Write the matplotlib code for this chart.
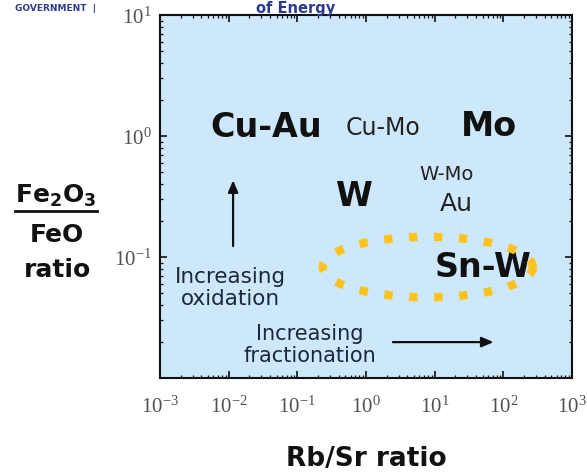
import numpy as np
import matplotlib
matplotlib.use("Agg")
import matplotlib.pyplot as plt
from matplotlib.lines import Line2D

plt.rcParams["mathtext.fontset"] = "custom"
plt.rcParams["mathtext.rm"] = "Liberation Serif"
plt.rcParams["mathtext.bf"] = "DejaVu Sans:bold"

# Axis ranges (Rb/Sr ratio vs Fe2O3/FeO ratio)
x_limits = [1e-3, 1e3]
y_limits = [1e-2, 1e1]
x_ticks = [1e-3, 1e-2, 1e-1, 1e0, 1e1, 1e2, 1e3]
y_ticks = [1e-1, 1e0, 1e1]

# Deposit-type labels placed at their (Rb/Sr, Fe2O3/FeO) positions
bold_labels = ["Cu-Au", "Mo", "W", "Sn-W"]
bold_x = [0.035, 62.0, 0.69, 50.0]
bold_y = [1.19, 1.21, 0.32, 0.083]

plain_labels = ["Cu-Mo", "W-Mo", "Au"]
plain_x = [1.77, 15.1, 20.4]
plain_y = [1.19, 0.49, 0.28]
plain_sizes = [17, 14, 18]

# Trend arrows: (start, end) in data units
ox_arrow_x = [0.0116, 0.0116]
ox_arrow_y = [0.123, 0.43]
fr_arrow_x = [2.47, 72.0]
fr_arrow_y = [0.0198, 0.0198]

# Sn-W field outline: centre and half-widths in decades
field_center_log = [0.90, -1.083]
field_half_log = [1.53, 0.25]

fig = plt.figure(figsize=(5.87, 4.77), dpi=100)
fig.patch.set_facecolor("white")
ax = fig.add_axes([160 / 587, 1 - 379 / 477, 412 / 587, 363 / 477])
ax.set_facecolor("#CDE8FA")
ax.set_xscale("log")
ax.set_yscale("log")
ax.set_xlim(x_limits)
ax.set_ylim(y_limits)
ax.set_xticks(x_ticks)
ax.set_yticks(y_ticks)

for s in ax.spines.values():
    s.set_linewidth(1.5)
    s.set_color("#111111")

ax.tick_params(which="both", direction="in", top=True, right=True, color="#111111")
ax.tick_params(which="major", length=5, width=1.2)
ax.tick_params(which="minor", length=2.5, width=0.9)
ax.tick_params(axis="both", which="major", labelsize=15, labelcolor="#505050",
               labelfontfamily="Liberation Serif")
ax.tick_params(axis="x", which="major", pad=13)
ax.tick_params(axis="y", which="major", pad=6)

for lab, x, y in zip(bold_labels, bold_x, bold_y):
    ax.text(x, y, lab, fontsize=24, fontweight="bold", color="#111111",
            ha="center", va="center", zorder=3)

for lab, x, y, fs in zip(plain_labels, plain_x, plain_y, plain_sizes):
    ax.text(x, y, lab, fontsize=fs, color="#222222", ha="center", va="center", zorder=3)

ax.text(0.0105, 0.0565, "Increasing\noxidation", fontsize=15.5, color="#1B2838",
        ha="center", va="center", linespacing=1.15, zorder=3)
ax.text(0.153, 0.0191, "Increasing\nfractionation", fontsize=15, color="#1B2838",
        ha="center", va="center", linespacing=1.15, zorder=3)

arrow_style = dict(arrowstyle="-|>,head_length=0.7,head_width=0.3", lw=1.6,
                   color="#111111", shrinkA=0, shrinkB=0)
ax.annotate("", xy=(ox_arrow_x[1], ox_arrow_y[1]), xytext=(ox_arrow_x[0], ox_arrow_y[0]),
            arrowprops=arrow_style)
ax.annotate("", xy=(fr_arrow_x[1], fr_arrow_y[1]), xytext=(fr_arrow_x[0], fr_arrow_y[0]),
            arrowprops=arrow_style)

# Dotted outline of the Sn-W field
t = np.linspace(0, 2 * np.pi, 400)
ex = 10 ** (field_center_log[0] + field_half_log[0] * np.cos(t))
ey = 10 ** (field_center_log[1] + field_half_log[1] * np.sin(t))
field, = ax.plot(ex, ey, color="#FBC31C", lw=6, zorder=4)
field.set_dashes([1.0, 2.0])
field.set_dash_capstyle("butt")

ax.set_xlabel("Rb/Sr ratio", fontsize=19, fontweight="bold", color="#111111", labelpad=20)

# Y-axis label drawn as a stacked fraction
fig.text(56 / 587, 1 - 203 / 477, r"$\mathbf{Fe_2O_3}$", fontsize=18, ha="center",
         va="baseline", color="#111111")
fig.add_artist(Line2D([15 / 587, 97 / 587], [1 - 212 / 477] * 2, lw=2, color="#111111",
                      transform=fig.transFigure))
fig.text(57 / 587, 1 - 242 / 477, "FeO", fontsize=18, fontweight="bold", ha="center",
         va="baseline", color="#111111")
fig.text(58 / 587, 1 - 277 / 477, "ratio", fontsize=18, fontweight="bold", ha="center",
         va="baseline", color="#111111")

# Banner text along the top edge
fig.text(296 / 587, 1 - 13 / 477, "of Energy", fontsize=10.5, fontweight="bold",
         color="#2B3A8F", ha="center", va="baseline")
fig.text(15 / 587, 1 - 11 / 477, "GOVERNMENT  |", fontsize=6.5, fontweight="bold",
         color="#2B3A8F", ha="left", va="baseline")

fig.savefig("out.png", dpi=100)
